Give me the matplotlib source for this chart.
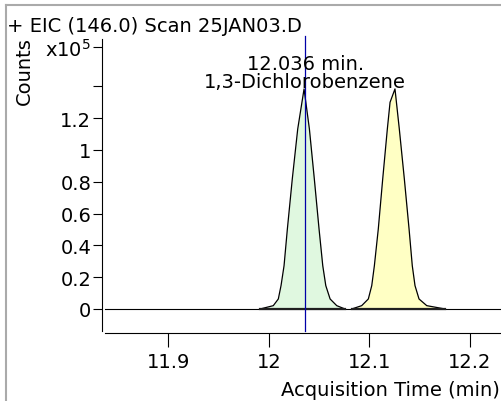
import matplotlib
matplotlib.use("Agg")
import matplotlib.pyplot as plt
from matplotlib.lines import Line2D

# ---------------- data (counts in units of 1e5) ----------------
rt_label = 12.036
compound = "1,3-Dichlorobenzene"

peak1_t = [11.9913, 12.0044, 12.0094, 12.0121, 12.0151, 12.0184, 12.0233, 12.0287,
           12.0350, 12.0403, 12.0452, 12.0499, 12.0536, 12.0566, 12.0609, 12.0675, 12.0757]
peak1_c = [0.0, 0.021, 0.063, 0.147, 0.272, 0.503, 0.818, 1.132,
           1.384, 1.132, 0.818, 0.503, 0.272, 0.147, 0.063, 0.021, 0.0]

peak2_t = [12.0824, 12.0923, 12.0989, 12.1023, 12.1049, 12.1088, 12.1132, 12.1178,
           12.1205, 12.1254, 12.1297, 12.1347, 12.1394, 12.1426, 12.1453, 12.1493, 12.1570, 12.1752]
peak2_c = [0.0, 0.021, 0.063, 0.147, 0.272, 0.503, 0.818, 1.132,
           1.30, 1.384, 1.132, 0.818, 0.503, 0.272, 0.147, 0.063, 0.021, 0.0]

xticks = [11.9, 12.0, 12.1, 12.2]
yticks = [0, 0.2, 0.4, 0.6, 0.8, 1.0, 1.2, 1.4, 1.646]
ytick_labels = ["0", "0.2", "0.4", "0.6", "0.8", "1", "1.2", "", "x10$^5$"]

# ---------------- figure ----------------
W, H = 502, 402
plt.rcParams['font.family'] = ['DejaVu Sans']
plt.rcParams['font.size'] = 14
fig = plt.figure(figsize=(W / 100, H / 100), dpi=100)

ax = fig.add_axes([102 / W, (H - 332) / H, (W - 102) / W, (332 - 40) / H])
ax.set_xlim(11.8341, 12.2318)
ax.set_ylim(-0.1384, 1.698)

# chromatogram peaks
ax.fill_between(peak1_t, peak1_c, 0, color="#e0f8e0", lw=0)
ax.fill_between(peak2_t, peak2_c, 0, color="#ffffc4", lw=0)
ax.axhline(0, xmin=(11.837 - 11.8341) / (12.2318 - 11.8341), color="black", lw=0.8)
ax.plot(peak1_t, peak1_c, color="black", lw=0.9)
ax.plot(peak2_t, peak2_c, color="black", lw=0.9)
ax.plot([peak1_t[0], peak1_t[-1]], [0, 0], color="#202020", lw=1.6)
ax.plot([peak2_t[0], peak2_t[-1]], [0, 0], color="#202020", lw=1.6)

# retention time marker
ax.axvline(rt_label, color="#0000a8", lw=0.9, ymax=1.01, clip_on=False)
ax.text(rt_label, 1.509, f"{rt_label:.3f} min.", ha="center", va="baseline")
ax.text(rt_label, 1.396, compound, ha="center", va="baseline")

# axes styling
for s in ["top", "right"]:
    ax.spines[s].set_visible(False)
ax.spines["left"].set_linewidth(0.8)
ax.spines["bottom"].set_linewidth(0.8)
ax.spines["bottom"].set_position(("outward", 1.5))
ax.spines["bottom"].set_bounds(11.837, 12.2318)

ax.set_xticks(xticks)
ax.set_xticklabels([f"{t:g}" for t in xticks])
ax.set_yticks(yticks)
ax.set_yticklabels(ytick_labels)
ax.tick_params(axis="y", length=6.7, width=0.8, pad=1)
ax.tick_params(axis="x", length=9.8, width=0.8, pad=4)
ax.yaxis.get_major_ticks()[7].tick1line.set_color("#888888")

# texts outside the plot
fig.text(7 / W, 1 - 32 / H, "+ EIC (146.0) Scan 25JAN03.D", ha="left", va="baseline")
fig.text(24 / W, 1 - 71 / H, "Counts", rotation=90, ha="center", va="center")
fig.text(500 / W, 1 - 396 / H, "Acquisition Time (min)", ha="right", va="baseline")

# gray frame
fig.add_artist(Line2D([5.5 / W, 5.5 / W], [0, 1 - 5.5 / H], transform=fig.transFigure,
                      color="#aaaaaa", lw=1.5))
fig.add_artist(Line2D([5.5 / W, 1], [1 - 5.5 / H, 1 - 5.5 / H], transform=fig.transFigure,
                      color="#aaaaaa", lw=1.5))

fig.savefig("out.png", dpi=100)
